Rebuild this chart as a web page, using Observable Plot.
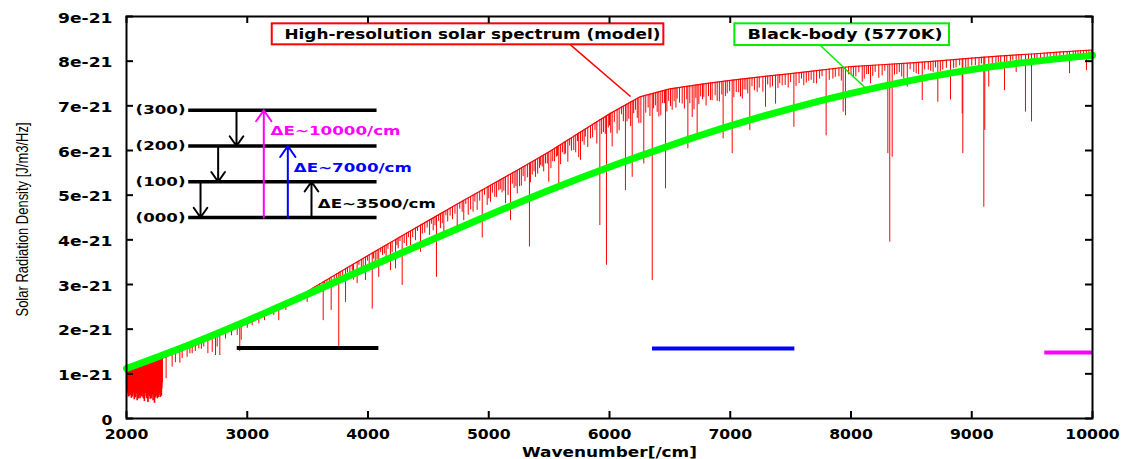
<!DOCTYPE html>
<html><head><meta charset="utf-8">
<script src="https://cdn.jsdelivr.net/npm/d3@7"></script>
<script src="https://cdn.jsdelivr.net/npm/@observablehq/plot@0.6"></script>
<style>html,body{margin:0;padding:0;background:#fff;}</style>
</head><body><div id="chart"></div>
<script>
// ---- axis ticks ----
const xTicks = [2000, 3000, 4000, 5000, 6000, 7000, 8000, 9000, 10000];
const yTicks = [0, 1, 2, 3, 4, 5, 6, 7, 8, 9]; // units of 1e-21

// ---- red high-resolution spectrum: upper envelope (continuum) ----
const contW = [2000,2250,2500,2750,3000,3250,3500,3750,4000,4250,4500,4750,5000,5250,5500,5750,6000,6250,6500,6750,7000,7250,7500,7750,8000,8250,8500,8750,9000,9250,9500,9750,10000];
const contV = [1.05,1.30,1.57,1.84,2.12,2.44,2.85,3.25,3.65,4.04,4.43,4.82,5.20,5.58,5.97,6.40,6.82,7.20,7.38,7.48,7.57,7.65,7.72,7.80,7.88,7.92,7.96,8.01,8.07,8.12,8.16,8.21,8.25];

// ---- dense absorption band 2000-2300: [wavenumber, bottom value] ----
const denseLines = [
[2002,0.70],[2006,0.62],[2010,0.80],[2013,0.55],[2016,0.48],[2019,0.66],[2022,0.70],[2025,0.50],[2028,0.55],[2031,0.77],
[2034,0.74],[2037,0.52],[2040,0.45],[2043,0.63],[2046,0.66],[2049,0.48],[2052,0.52],[2055,0.70],[2058,0.78],[2061,0.56],
[2064,0.42],[2067,0.68],[2070,0.60],[2073,0.46],[2076,0.50],[2079,0.75],[2082,0.72],[2085,0.55],[2088,0.40],[2091,0.64],
[2094,0.58],[2097,0.44],[2100,0.47],[2103,0.71],[2106,0.68],[2109,0.52],[2112,0.44],[2115,0.66],[2118,0.62],[2121,0.48],
[2124,0.50],[2127,0.69],[2130,0.75],[2133,0.55],[2136,0.46],[2139,0.60],[2142,0.64],[2145,0.43],[2148,0.38],[2151,0.62],
[2154,0.56],[2157,0.74],[2160,0.70],[2163,0.50],[2166,0.45],[2169,0.67],[2172,0.60],[2175,0.42],[2178,0.36],[2181,0.58],
[2184,0.52],[2187,0.72],[2190,0.66],[2193,0.49],[2196,0.43],[2199,0.65],[2202,0.58],[2205,0.44],[2208,0.48],[2211,0.70],
[2214,0.72],[2217,0.53],[2220,0.40],[2223,0.61],[2226,0.55],[2229,0.42],[2232,0.34],[2235,0.57],[2238,0.62],[2241,0.46],
[2244,0.50],[2247,0.73],[2250,0.68],[2253,0.51],[2256,0.44],[2259,0.64],[2262,0.60],[2265,0.47],[2268,0.52],[2271,0.70],
[2274,0.74],[2277,0.55],[2280,0.47],[2283,0.63],[2286,0.58],[2289,0.50],[2292,0.66],[2295,0.80]
];
// ---- individual absorption lines: [wavenumber, bottom value] ----
const deepLines = [
[2328,0.89],[2378,1.15],[2405,1.25],[2442,1.24],[2461,1.34],[2502,1.37],[2525,1.45],[2544,1.45],[2570,1.50],[2599,1.56],
[2620,1.55],[2640,1.60],[2674,1.45],[2710,1.48],[2737,1.41],[2751,1.60],[2773,1.41],[2820,1.78],[2870,1.85],[2917,1.86],
[2938,1.50],[2950,1.75],[3000,2.02],[3041,2.08],[3096,2.12],[3143,2.19],[3220,2.31],[3261,2.19],[3320,2.42],[3386,2.57],
[3455,2.68],[3496,2.60],[3524,2.72],[3560,2.85],[3600,2.90],[3629,2.19],[3660,2.95],[3695,2.42],[3720,3.00],[3758,1.57],
[3790,3.05],[3814,2.60],[3850,3.20],[3880,3.10],[3910,3.02],[3945,3.30],[3979,3.09],[4010,3.45],[4035,2.45],[4060,3.50],
[4089,3.16],[4120,3.65],[4150,3.55],[4186,3.31],[4228,3.35],[4250,3.80],[4283,2.98],[4320,3.85],[4352,3.87],[4393,3.98],
[4435,3.72],[4470,4.15],[4510,4.10],[4540,4.20],[4567,3.16],[4600,4.25],[4628,4.10],[4660,4.40],[4700,4.45],[4739,4.28],
[4793,4.43],[4830,4.55],[4870,4.62],[4904,4.66],[4946,4.04],[4987,4.77],[5015,4.84],[5050,4.95],[5083,5.10],[5110,5.05],
[5139,4.81],[5180,4.43],[5210,5.15],[5236,5.03],[5270,5.20],[5300,5.30],[5337,3.84],[5360,5.45],[5387,5.40],[5420,5.60],
[5443,5.63],[5470,5.70],[5497,5.29],[5530,5.75],[5560,5.85],[5580,5.25],[5610,5.95],[5636,5.92],[5670,6.10],[5704,6.00],
[5735,6.20],[5760,5.78],[5800,6.30],[5843,6.26],[5880,6.45],[5920,4.32],[5950,6.40],[5975,3.43],[6000,6.55],[6022,6.08],
[6063,6.37],[6100,6.80],[6132,5.10],[6160,6.70],[6188,5.40],[6215,6.90],[6243,6.60],[6284,5.70],[6320,6.95],[6354,3.09],
[6380,7.00],[6409,6.75],[6440,7.05],[6464,5.14],[6490,7.10],[6519,6.90],[6560,7.15],[6602,7.04],[6649,6.04],[6685,6.74],
[6726,6.37],[6755,7.20],[6781,7.19],[6836,7.12],[6892,7.10],[6941,6.26],[6975,7.27],[7016,5.93],[7050,7.30],[7085,7.20],
[7130,7.35],[7162,6.45],[7223,7.30],[7292,6.97],[7330,7.40],[7375,7.04],[7430,7.45],[7480,7.40],[7527,6.52],[7570,7.50],
[7609,7.45],[7650,7.55],[7692,7.50],[7740,7.60],[7794,6.33],[7850,7.60],[7900,7.65],[7935,6.86],[7954,6.78],[8000,7.70],
[8040,7.65],[8093,7.53],[8130,7.70],[8162,7.49],[8200,7.75],[8258,7.67],[8305,5.93],[8321,3.95],[8341,5.85],[8380,7.70],
[8437,7.60],[8466,7.42],[8520,7.75],[8560,7.70],[8590,7.12],[8640,7.80],[8680,7.75],[8719,7.08],[8760,7.80],[8824,7.13],
[8870,7.85],[8921,6.82],[8926,5.93],[8970,7.85],[9030,7.90],[9060,7.80],[9100,4.73],[9108,6.45],[9141,7.42],[9200,7.90],
[9240,7.85],[9271,7.34],[9320,7.95],[9368,7.75],[9410,7.95],[9445,6.86],[9495,6.64],[9540,8.00],[9600,8.05],[9650,8.00],
[9700,8.05],[9760,8.10],[9810,7.72],[9860,8.10],[9900,8.05],[9950,7.79],[9990,8.15]
];
// ---- weak lines: [wavenumber, depth below envelope] ----
const weakLines = [
[3420,.08],[3470,.10],[3540,.12],[3580,.10],[3640,.15],[3680,.12],[3740,.10],[3770,.18],[3830,.12],[3870,.15],
[3925,.10],[3960,.20],[3995,.12],[4045,.15],[4075,.22],[4105,.10],[4135,.18],[4165,.12],[4200,.25],[4240,.15],
[4265,.10],[4300,.20],[4335,.12],[4370,.18],[4410,.10],[4450,.22],[4490,.15],[4525,.12],[4555,.20],[4585,.15],
[4615,.25],[4645,.12],[4680,.18],[4720,.20],[4760,.15],[4780,.25],[4810,.12],[4850,.30],[4885,.18],[4925,.22],
[4965,.15],[5000,.28],[5030,.20],[5065,.35],[5095,.22],[5125,.30],[5160,.45],[5195,.25],[5225,.35],[5255,.40],
[5285,.22],[5320,.30],[5345,.45],[5375,.25],[5405,.35],[5430,.20],[5455,.38],[5485,.25],[5515,.40],[5545,.30],
[5570,.22],[5595,.45],[5625,.28],[5655,.50],[5685,.30],[5720,.40],[5745,.55],[5775,.25],[5790,.35],[5820,.45],
[5860,.30],[5895,.50],[5935,.35],[5965,.40],[5990,.30],[6010,.45],[6040,.25],[6080,.50],[6115,.35],[6145,.40],
[6175,.55],[6200,.30],[6230,.45],[6260,.60],[6300,.40],[6335,.50],[6365,.35],[6395,.45],[6425,.55],[6455,.30],
[6475,.50],[6505,.40],[6535,.30],[6550,.45],[6580,.35],[6620,.50],[6640,.30],[6665,.40],[6700,.55],[6715,.30],
[6740,.45],[6770,.35],[6800,.50],[6820,.30],[6850,.40],[6875,.30],[6910,.45],[6930,.30],[6960,.35],[6995,.25],
[7030,.40],[7070,.30],[7100,.45],[7115,.25],[7145,.35],[7180,.20],[7200,.30],[7240,.25],[7270,.35],[7310,.20],
[7350,.25],[7395,.30],[7410,.20],[7455,.25],[7500,.20],[7545,.30],[7590,.15],[7630,.25],[7670,.20],[7715,.30],
[7760,.15],[7820,.25],[7870,.20],[7920,.30],[7980,.18],[8020,.25],[8065,.15],[8110,.30],[8145,.20],[8180,.25],
[8230,.30],[8280,.15],[8360,.25],[8400,.20],[8420,.30],[8490,.15],[8540,.25],[8610,.18],[8660,.22],[8700,.15],
[8740,.25],[8790,.18],[8850,.20],[8900,.15],[8950,.22],[9000,.18],[9080,.15],[9170,.20],[9220,.15],[9290,.18],
[9340,.12],[9390,.15],[9470,.18],[9520,.12],[9570,.15],[9625,.10],[9680,.15],[9730,.12],[9790,.10],[9840,.15],
[9880,.10],[9925,.12],[9970,.10]
];

// ---- black-body (5770K) curve ----
const bbW = [2000,2500,3000,3500,4000,4500,5000,5500,6000,6500,7000,7500,8000,8500,9000,9500,10000];
const bbV = [1.12,1.63,2.19,2.78,3.38,3.97,4.55,5.11,5.63,6.11,6.55,6.94,7.28,7.57,7.81,7.99,8.13];

// ---- energy-level diagram ----
const levelNames = ["(000)", "(100)", "(200)", "(300)"];
const levelE = [4.5, 5.3, 6.1, 6.9];
const levelSpan = [2515, 4075];
const levelLabelX = 2075;
const downArrowX = [2613, 2759, 2911];
const upArrowX = [3137, 3336, 3532];
const upArrowTop = [6.9, 6.1, 5.3];
const upColors = ["#ff00ff", "#0000ff", "#000000"];
const deltaLabels = ["ΔE~10000/cm", "ΔE~7000/cm", "ΔE~3500/cm"];
const deltaX = [3193, 3386, 3584];
const deltaY = [6.43, 5.61, 4.81];

// ---- band bars ----
const bandX1 = [2917, 6356, 9605];
const bandX2 = [4090, 7535, 10000];
const bandY = [1.58, 1.565, 1.48];

// ---- callout boxes ----
const boxText = ["High-resolution solar spectrum (model)", "Black-body (5770K)"];
const boxX1 = [3207, 7038];
const boxX2 = [6450, 8816];
const boxY1 = [8.366, 8.35];
const boxY2 = [8.836, 8.836];
const boxTextX = [3308, 7143];
const boxTextY = [8.60, 8.60];
const boxColors = ["#ff0000", "#00ee00"];
const leaderX1 = [5677, 7747];
const leaderY1 = [8.366, 8.35];
const leaderX2 = [6174, 8120];
const leaderY2 = [7.21, 7.40];

const xTitle = "Wavenumber[/cm]";
const yTitle = "Solar Radiation Density [J/m3/Hz]";

// ---- build tables ----
const cont = d3.scaleLinear().domain(contW).range(contV);
const contData = contW.map((w, i) => ({w, v: contV[i]}));
const denseData = denseLines.map(([w, b]) => ({w, top: cont(w), bottom: b}));
const lineData = [
  ...deepLines.map(([w, b]) => ({w, top: cont(w), bottom: b})),
  ...weakLines.map(([w, d]) => ({w, top: cont(w), bottom: cont(w) - d}))
];
const bbData = bbW.map((w, i) => ({w, v: bbV[i]}));
const levels = levelNames.map((name, i) => ({name, e: levelE[i]}));
const downArrows = downArrowX.map((x, i) => ({x, from: levelE[i + 1], to: levelE[i]}));
const upArrows = upArrowX.map((x, i) => ({x, from: levelE[0], to: upArrowTop[i], c: upColors[i]}));
const deltas = deltaLabels.map((t, i) => ({t, x: deltaX[i], y: deltaY[i], c: upColors[i]}));
const bands = bandX1.map((x1, i) => ({x1, x2: bandX2[i], y: bandY[i], c: upColors[2 - i]}));
const boxes = boxText.map((t, i) => ({t, x1: boxX1[i], x2: boxX2[i], y1: boxY1[i], y2: boxY2[i], tx: boxTextX[i], ty: boxTextY[i], c: boxColors[i], lx1: leaderX1[i], ly1: leaderY1[i], lx2: leaderX2[i], ly2: leaderY2[i]}));

const W = 1125, H = 459, mL = 126, mR = 33, mT = 16, mB = 41;
const fw = W - mL - mR, fh = H - mT - mB, tk = 7;

const svg = Plot.plot({
  width: W, height: H,
  marginLeft: mL, marginRight: mR, marginTop: mT, marginBottom: mB,
  x: {domain: [2000, 10000]},
  y: {domain: [0, 9]},
  style: {fontFamily: "DejaVu Sans", fontSize: "13px", fontWeight: "bold", background: "#fff", color: "#000"},
  marks: [
    // red spectrum
    Plot.ruleX(denseData, {x: "w", y1: "bottom", y2: "top", stroke: "#ff0000", strokeWidth: 1.6}),
    Plot.ruleX(lineData, {x: "w", y1: "bottom", y2: "top", stroke: "#ff0000", strokeWidth: 1}),
    Plot.line(contData, {x: "w", y: "v", stroke: "#ff0000", strokeWidth: 1.2}),
    // black body
    Plot.line(bbData, {x: "w", y: "v", stroke: "#00ff00", strokeWidth: 7, curve: "natural"}),
    // bands
    Plot.ruleY(bands, {x1: "x1", x2: "x2", y: "y", stroke: "c", strokeWidth: 4}),
    // level lines
    Plot.ruleY(levels, {x1: levelSpan[0], x2: levelSpan[1], y: "e", stroke: "#000", strokeWidth: 3.5}),
    Plot.text(levels, {x: levelLabelX, y: "e", text: "name", textAnchor: "start", fill: "#000", fontSize: 12.5}),
    Plot.arrow(downArrows, {x1: "x", x2: "x", y1: "from", y2: "to", stroke: "#000", strokeWidth: 2, headLength: 10, headAngle: 70}),
    Plot.arrow(upArrows, {x1: "x", x2: "x", y1: "from", y2: "to", stroke: "c", strokeWidth: 2, headLength: 10, headAngle: 70}),
    Plot.text(deltas, {x: "x", y: "y", text: "t", fill: "c", textAnchor: "start", fontSize: 12.5}),
    // callouts
    Plot.link(boxes, {x1: "lx1", y1: "ly1", x2: "lx2", y2: "ly2", stroke: "c", strokeWidth: 1.5}),
    Plot.rect(boxes, {x1: "x1", x2: "x2", y1: "y1", y2: "y2", fill: "#fff", stroke: "c", strokeWidth: 2}),
    Plot.text(boxes, {x: "tx", y: "ty", text: "t", textAnchor: "start", fill: "#000", fontSize: 14}),
    // frame and inward ticks
    Plot.frame({stroke: "#000", strokeWidth: 2}),
    Plot.tickX(xTicks, {x: d => d, insetTop: fh - tk, stroke: "#000", strokeWidth: 2}),
    Plot.tickX(xTicks, {x: d => d, insetBottom: fh - tk, stroke: "#000", strokeWidth: 2}),
    Plot.tickY(yTicks, {y: d => d, insetRight: fw - tk, stroke: "#000", strokeWidth: 2}),
    Plot.tickY(yTicks, {y: d => d, insetLeft: fw - tk, stroke: "#000", strokeWidth: 2}),
    Plot.axisX({ticks: xTicks, tickSize: 0, tickPadding: 11, tickFormat: d => `${d}`, label: null, fontSize: 13.5}),
    Plot.axisY({ticks: yTicks, tickSize: 0, tickPadding: 14, tickFormat: d => d === 0 ? "0" : `${d}e-21`, label: null, fontSize: 13.5, dy: 2}),
    Plot.text([xTitle], {frameAnchor: "bottom", text: d => d, dy: 34, fontSize: 14, lineAnchor: "middle"}),
    Plot.text([yTitle], {frameAnchor: "left", text: d => d, rotate: -90, textAnchor: "middle", dx: -104, dy: 2, fontSize: 16, fontWeight: "normal", fontFamily: "Liberation Sans Narrow, Liberation Sans, sans-serif"})
  ]
});

const fit = {
  "High-resolution solar spectrum (model)": 376,
  "Black-body (5770K)": 195,
  "Wavenumber[/cm]": 175,
  "Solar Radiation Density [J/m3/Hz]": 194,
  "ΔE~10000/cm": 130, "ΔE~7000/cm": 118, "ΔE~3500/cm": 118,
  "(000)": 50, "(100)": 50, "(200)": 50, "(300)": 50
};
d3.select(svg).selectAll("text").each(function () {
  const t = this.textContent;
  let len = fit[t];
  if (!len && /^(\d+|\de-21)$/.test(t)) len = t.length * 10.9;
  if (len) {
    this.style.letterSpacing = "0px";
    this.setAttribute("textLength", len);
    this.setAttribute("lengthAdjust", "spacingAndGlyphs");
  }
});
document.getElementById("chart").appendChild(svg);
</script>
</body></html>
